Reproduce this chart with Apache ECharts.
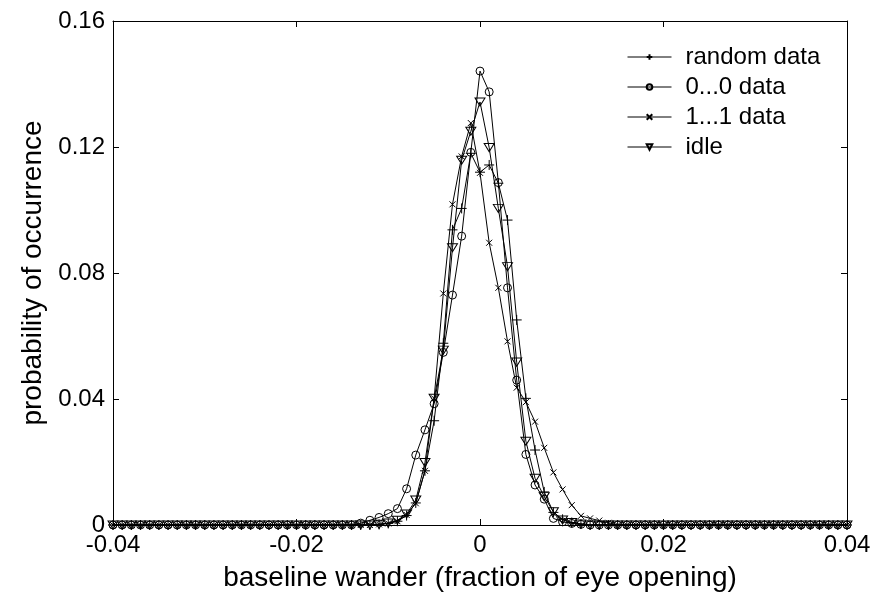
<!DOCTYPE html>
<html>
<head>
<meta charset="utf-8">
<script src="https://cdn.jsdelivr.net/npm/echarts@6/dist/echarts.min.js"></script>
<style>
  html, body { margin: 0; padding: 0; background: #fff; }
  #chart { width: 875px; height: 599px; }
</style>
</head>
<body>
<div id="chart"></div>
<script>
// baseline wander histogram, bins every 0.001 from -0.04 to 0.04
const xs = Array.from({ length: 81 }, (_, i) => (i - 40) / 1000);

const randomData = [
  0, 0, 0, 0, 0, 0, 0, 0, 0, 0, 0, 0, 0, 0, 0, 0, 0, 0, 0, 0, 0, 0, 0, 0, 0, 0, 0, 0, 0,
  0.0002, 0.0005, 0.0012, 0.003, 0.007, 0.0172, 0.0331, 0.0577, 0.0937, 0.1005, 0.118,
  0.112,
  0.1143, 0.1085, 0.0968, 0.0651, 0.0402, 0.0238, 0.0105, 0.004, 0.0018, 0.0008, 0.0003,
  0, 0, 0, 0, 0, 0, 0, 0, 0, 0, 0, 0, 0, 0, 0, 0, 0, 0, 0, 0, 0, 0, 0, 0, 0, 0, 0, 0, 0
];
const zerosData = [
  0, 0, 0, 0, 0, 0, 0, 0, 0, 0, 0, 0, 0, 0, 0, 0, 0, 0, 0, 0, 0, 0, 0, 0, 0, 0, 0,
  0.0006, 0.0015, 0.0024, 0.0036, 0.0052, 0.0115, 0.0222, 0.0302, 0.0385, 0.0548, 0.073, 0.0917, 0.1183,
  0.1441,
  0.1375, 0.1087, 0.0753, 0.046, 0.0224, 0.0127, 0.0082, 0.0021, 0.001, 0.0005, 0.0002,
  0, 0, 0, 0, 0, 0, 0, 0, 0, 0, 0, 0, 0, 0, 0, 0, 0, 0, 0, 0, 0, 0, 0, 0, 0, 0, 0, 0, 0
];
const onesData = [
  0, 0, 0, 0, 0, 0, 0, 0, 0, 0, 0, 0, 0, 0, 0, 0, 0, 0, 0, 0, 0, 0, 0, 0, 0, 0, 0, 0, 0,
  0.0002, 0.0005, 0.0012, 0.0032, 0.0069, 0.0172, 0.0402, 0.0735, 0.1018, 0.117, 0.1276,
  0.1118,
  0.0896, 0.0753, 0.0583, 0.0436, 0.039, 0.0328, 0.0245, 0.0167, 0.0113, 0.0063, 0.0029, 0.0021, 0.0014, 0.0007,
  0, 0, 0, 0, 0, 0, 0, 0, 0, 0, 0, 0, 0, 0, 0, 0, 0, 0, 0, 0, 0, 0, 0, 0, 0, 0
];
const idleData = [
  0, 0, 0, 0, 0, 0, 0, 0, 0, 0, 0, 0, 0, 0, 0, 0, 0, 0, 0, 0, 0, 0, 0, 0, 0, 0, 0, 0, 0,
  0.0002, 0.0006, 0.0015, 0.0035, 0.0079, 0.0198, 0.0402, 0.0555, 0.088, 0.1158, 0.125,
  0.1343,
  0.1198, 0.1005, 0.082, 0.0517, 0.0266, 0.0148, 0.009, 0.0042, 0.0016, 0.0008, 0.0003,
  0, 0, 0, 0, 0, 0, 0, 0, 0, 0, 0, 0, 0, 0, 0, 0, 0, 0, 0, 0, 0, 0, 0, 0, 0, 0, 0, 0, 0
];

const seriesNames = ["random data", "0...0 data", "1...1 data", "idle"];

const FONT = "Liberation Sans";

const markers = [
  { symbol: "path://M0,5L10,5M5,0L5,10", size: 10 },
  { symbol: "circle", size: 8 },
  { symbol: "path://M0,0L10,10M10,0L0,10", size: 6 },
  { symbol: "path://M0,0L10,0L5,9Z", size: [10, 9] }
];

const pair = (arr) => arr.map((v, i) => [xs[i], v]);
const allData = [randomData, zerosData, onesData, idleData];

const chart = echarts.init(document.getElementById("chart"));

const tickStyle = { inside: true, length: 6, lineStyle: { color: "#000", width: 1 } };
const axisLine = { show: true, onZero: false, lineStyle: { color: "#000", width: 1 } };

const option = {
  animation: false,
  backgroundColor: "#fff",
  textStyle: { fontFamily: FONT, color: "#000" },
  grid: { left: 113, right: 28, top: 21, bottom: 74 },
  legend: {
    orient: "vertical",
    left: 622,
    top: 40,
    itemWidth: 44,
    itemHeight: 7,
    itemGap: 6,
    data: seriesNames,
    lineStyle: { width: 1 },
    textStyle: { fontFamily: FONT, fontSize: 24, lineHeight: 24, color: "#000", padding: [0, 0, 0, 9] }
  },
  xAxis: [
    {
      type: "value",
      min: -0.04,
      max: 0.04,
      interval: 0.02,
      name: "baseline wander (fraction of eye opening)",
      nameLocation: "middle",
      nameGap: 39,
      nameTextStyle: { fontFamily: FONT, fontSize: 28, color: "#000" },
      axisLine: axisLine,
      axisTick: tickStyle,
      axisLabel: { fontFamily: FONT, fontSize: 24, color: "#000", margin: 8 },
      splitLine: { show: false }
    },
    {
      type: "value",
      position: "top",
      min: -0.04,
      max: 0.04,
      interval: 0.02,
      axisLine: axisLine,
      axisTick: tickStyle,
      axisLabel: { show: false },
      splitLine: { show: false }
    }
  ],
  yAxis: [
    {
      type: "value",
      min: 0,
      max: 0.16,
      interval: 0.04,
      name: "probability of occurrence",
      nameLocation: "middle",
      nameGap: 65,
      nameTextStyle: { fontFamily: FONT, fontSize: 28, color: "#000" },
      axisLine: axisLine,
      axisTick: tickStyle,
      axisLabel: { fontFamily: FONT, fontSize: 24, color: "#000", margin: 8 },
      splitLine: { show: false }
    },
    {
      type: "value",
      position: "right",
      min: 0,
      max: 0.16,
      interval: 0.04,
      axisLine: axisLine,
      axisTick: tickStyle,
      axisLabel: { show: false },
      splitLine: { show: false }
    }
  ],
  series: seriesNames.map((name, i) => ({
    name,
    type: "line",
    data: pair(allData[i]),
    symbol: markers[i].symbol,
    symbolSize: markers[i].size,
    symbolKeepAspect: true,
    showAllSymbol: true,
    itemStyle: { color: "none", borderColor: "#000", borderWidth: 1 },
    lineStyle: { color: "#000", width: 1 },
    emphasis: { disabled: true }
  }))
};

chart.setOption(option);
</script>
</body>
</html>
